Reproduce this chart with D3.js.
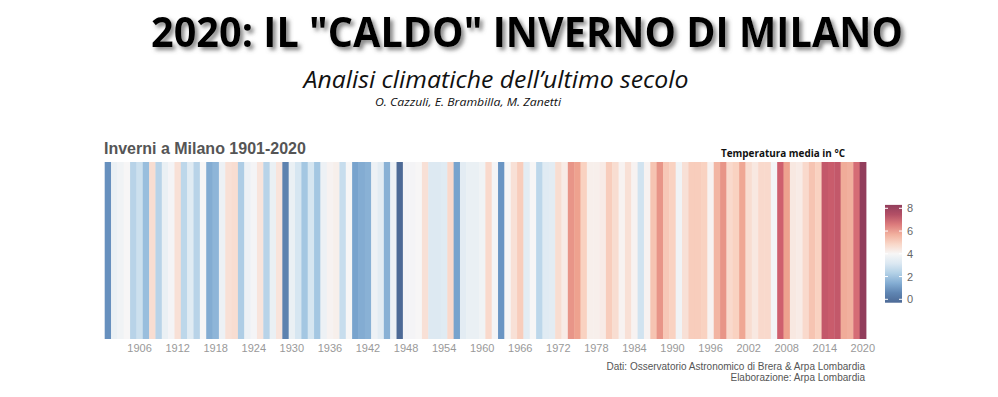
<!DOCTYPE html>
<html>
<head>
<meta charset="utf-8">
<script src="https://cdn.jsdelivr.net/npm/d3@7"></script>
<style>
  body { margin: 0; background: #ffffff; }
  svg { display: block; }
</style>
</head>
<body>
<div id="vis"></div>
<script>
// mean winter temperature in Milan (°C), 1901-2020
const years = d3.range(1901, 2021);
const temps = [
  0.8, 3.6, 3.8, 4.0, 2.4, 2.8, 1.8, 4.7, 2.4, 3.6,
  3.9, 4.6, 2.5, 3.3, 2.4, 4.0, 1.4, 1.6, 3.7, 4.6,
  4.7, 2.2, 3.7, 3.9, 4.5, 2.4, 3.6, 4.5, 0.5, 3.6,
  3.0, 2.0, 3.0, 2.0, 3.7, 4.1, 4.2, 2.7, 4.0, 1.2,
  1.4, 1.5, 3.7, 3.4, 1.5, 3.7, 0.0, 3.9, 3.9, 4.0,
  4.6, 3.2, 3.2, 3.3, 4.8, 1.2, 3.4, 3.6, 3.6, 3.8,
  4.8, 3.9, 0.9, 4.0, 4.6, 5.1, 3.4, 4.0, 2.5, 3.3,
  3.4, 4.7, 4.3, 6.2, 6.0, 5.0, 4.2, 4.2, 4.3, 5.1,
  4.7, 4.1, 4.6, 4.1, 2.9, 4.1, 5.3, 6.2, 5.2, 5.0,
  3.8, 4.6, 5.1, 5.1, 5.0, 4.1, 5.6, 6.2, 4.8, 5.0,
  5.9, 4.7, 4.4, 4.8, 4.8, 3.9, 7.0, 6.0, 4.4, 4.3,
  4.8, 5.3, 5.0, 7.2, 7.1, 7.2, 5.8, 5.7, 6.8, 8.0
];
const yearTicks = d3.range(1906, 2021, 6);
const legendTicks = [0, 2, 4, 6, 8];
const colorStops = [0, 1, 2, 3, 4, 5, 6, 7, 8];
const colorRange = ["#4d6a96", "#6d9ac8", "#a4c7e2", "#d6e6f1", "#f7f6f6",
                    "#f9d2c1", "#eea28f", "#cf5f6e", "#923e5c"];

const width = 998, height = 397;
const stripeTop = 162, stripeBottom = 339;

const svg = d3.select("#vis").append("svg")
  .attr("width", width)
  .attr("height", height);

const defs = svg.append("defs");
defs.append("filter")
  .attr("id", "shadow")
  .attr("x", "-5%").attr("y", "-20%")
  .attr("width", "115%").attr("height", "160%")
  .append("feDropShadow")
  .attr("dx", 3).attr("dy", 3)
  .attr("stdDeviation", 2)
  .attr("flood-color", "#666")
  .attr("flood-opacity", 0.8);

const color = d3.scaleLinear()
  .domain(colorStops)
  .range(colorRange)
  .clamp(true);

// headings
svg.append("text")
  .attr("x", 527).attr("y", 47)
  .attr("text-anchor", "middle")
  .attr("font-family", "'Open Sans', sans-serif")
  .attr("font-weight", "bold")
  .attr("font-size", 42)
  .attr("textLength", 752)
  .attr("lengthAdjust", "spacingAndGlyphs")
  .attr("fill", "#000")
  .attr("filter", "url(#shadow)")
  .text('2020: IL "CALDO" INVERNO DI MILANO');

svg.append("text")
  .attr("x", 496).attr("y", 88)
  .attr("text-anchor", "middle")
  .attr("font-family", "'Open Sans', sans-serif")
  .attr("font-style", "italic")
  .attr("font-size", 23)
  .attr("textLength", 385)
  .attr("lengthAdjust", "spacingAndGlyphs")
  .attr("fill", "#111")
  .text("Analisi climatiche dell\u2019ultimo secolo");

svg.append("text")
  .attr("x", 468).attr("y", 106)
  .attr("text-anchor", "middle")
  .attr("font-family", "'Open Sans', sans-serif")
  .attr("font-style", "italic")
  .attr("font-size", 11)
  .attr("textLength", 186)
  .attr("lengthAdjust", "spacingAndGlyphs")
  .attr("fill", "#111")
  .text("O. Cazzuli, E. Brambilla, M. Zanetti");

svg.append("text")
  .attr("x", 104).attr("y", 154)
  .attr("font-family", "'Liberation Sans', Arial, sans-serif")
  .attr("font-weight", "bold")
  .attr("font-size", 16)
  .attr("fill", "#555")
  .text("Inverni a Milano 1901-2020");

svg.append("text")
  .attr("x", 783).attr("y", 157)
  .attr("text-anchor", "middle")
  .attr("font-family", "'Open Sans', sans-serif")
  .attr("font-weight", "bold")
  .attr("font-size", 10.5)
  .attr("textLength", 124)
  .attr("lengthAdjust", "spacingAndGlyphs")
  .attr("fill", "#111")
  .text("Temperatura media in \u00b0C");

// stripes
const x = d3.scaleBand()
  .domain(years)
  .range([104.7, 866])
  .padding(0);

svg.append("g")
  .selectAll("rect")
  .data(years)
  .join("rect")
  .attr("x", d => x(d))
  .attr("y", stripeTop)
  .attr("width", x.bandwidth() + 0.4)
  .attr("height", stripeBottom - stripeTop)
  .attr("fill", (d, i) => color(temps[i]));

const xAxis = svg.append("g")
  .attr("transform", `translate(0,${stripeBottom})`)
  .call(d3.axisBottom(x).tickValues(yearTicks).tickSize(0).tickPadding(5));
xAxis.select(".domain").remove();
xAxis.selectAll("text")
  .attr("font-family", "'Liberation Sans', Arial, sans-serif")
  .attr("font-size", 11)
  .attr("fill", "#999");

// colour bar legend
const ly = d3.scaleLinear().domain([0, 8]).range([299.3, 208.3]);
const lg = defs.append("linearGradient")
  .attr("id", "legendGrad")
  .attr("x1", 0).attr("y1", 1).attr("x2", 0).attr("y2", 0);
const legendMin = -0.3, legendMax = 8.3;
d3.range(0, 11).forEach(i => {
  const v = legendMin + (legendMax - legendMin) * i / 10;
  lg.append("stop")
    .attr("offset", i / 10)
    .attr("stop-color", color(v));
});

svg.append("rect")
  .attr("x", 885).attr("y", ly(legendMax))
  .attr("width", 17)
  .attr("height", ly(legendMin) - ly(legendMax))
  .attr("fill", "url(#legendGrad)");

const legendAxis = svg.append("g")
  .attr("transform", "translate(902,0)")
  .call(d3.axisRight(ly).tickValues(legendTicks).tickSize(0).tickPadding(5));
legendAxis.select(".domain").remove();
legendAxis.selectAll("text")
  .attr("font-family", "'Liberation Sans', Arial, sans-serif")
  .attr("font-size", 11)
  .attr("fill", "#666");

svg.append("g")
  .selectAll("line")
  .data(legendTicks.flatMap(t => [{ t, x0: 885, x1: 888 }, { t, x0: 899, x1: 902 }]))
  .join("line")
  .attr("x1", d => d.x0).attr("x2", d => d.x1)
  .attr("y1", d => ly(d.t)).attr("y2", d => ly(d.t))
  .attr("stroke", "#fff")
  .attr("stroke-width", 1);

// source notes
const notes = ["Dati: Osservatorio Astronomico di Brera & Arpa Lombardia",
               "Elaborazione: Arpa Lombardia"];
svg.append("g")
  .selectAll("text")
  .data(notes)
  .join("text")
  .attr("x", 865)
  .attr("y", (d, i) => 370 + i * 10.5)
  .attr("text-anchor", "end")
  .attr("font-family", "'Liberation Sans', Arial, sans-serif")
  .attr("font-size", 10)
  .attr("fill", "#555")
  .text(d => d);
</script>
</body>
</html>
